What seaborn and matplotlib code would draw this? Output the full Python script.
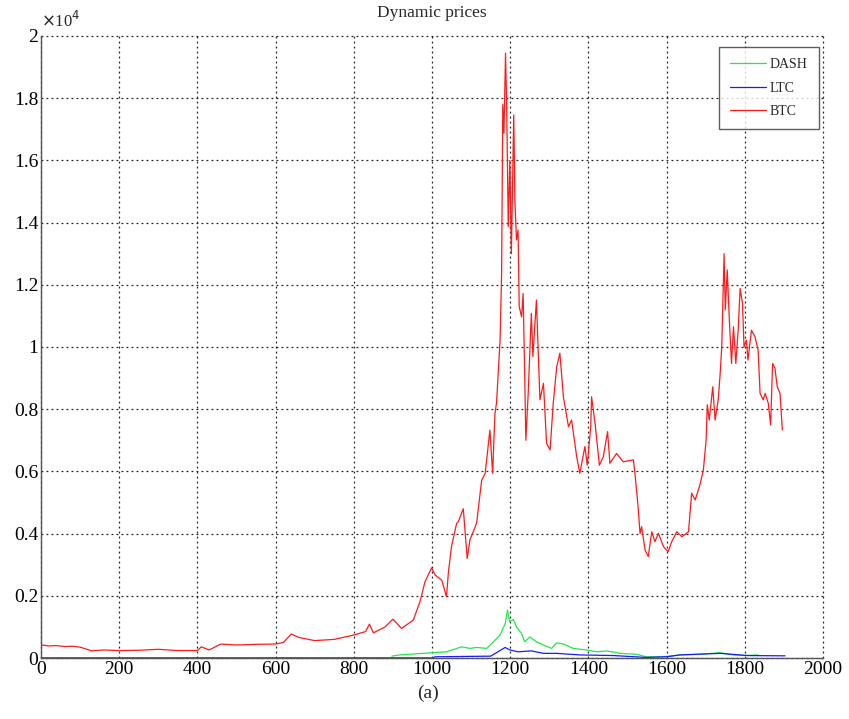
#recreate the "Dynamic prices" chart (BTC, LTC, DASH) in a MATLAB-like style
import numpy as np
import pandas as pd
import matplotlib
matplotlib.use('Agg')
import matplotlib.pyplot as plt
import matplotlib.ticker as mticker
import seaborn as sns

#BTC price (USD), day index -> price
btc_day = [0, 20, 40, 60, 80, 100, 130, 160, 200, 250, 300, 350, 400, 410, 430, 460, 500, 550, 600, 620,
           640, 660, 700, 750, 800, 830, 840, 850, 880, 900, 922, 952, 969, 982, 999, 1008, 1025, 1037, 1042, 1050,
           1063, 1067, 1080, 1090, 1097, 1114, 1127, 1136, 1148, 1155, 1161, 1165, 1174, 1178, 1181, 1184, 1188, 1191, 1195, 1199,
           1203, 1209, 1212, 1216, 1220, 1223, 1229, 1233, 1237, 1240, 1246, 1254, 1258, 1267, 1276, 1285, 1293, 1302, 1310, 1319,
           1327, 1336, 1349, 1357, 1370, 1378, 1391, 1397, 1406, 1408, 1417, 1428, 1438, 1449, 1455, 1472, 1489, 1515, 1519, 1527,
           1532, 1536, 1545, 1553, 1562, 1570, 1579, 1592, 1604, 1613, 1626, 1639, 1656, 1664, 1673, 1685, 1694, 1701, 1704, 1709,
           1718, 1724, 1732, 1737, 1741, 1747, 1750, 1755, 1760, 1766, 1771, 1777, 1783, 1788, 1794, 1798, 1804, 1808, 1817, 1826,
           1834, 1839, 1847, 1852, 1860, 1866, 1871, 1877, 1883, 1890, 1896]
btc_price = [420, 390, 400, 370, 380, 350, 230, 260, 240, 250, 280, 240, 240, 360, 260, 450, 420, 440, 450, 500,
             770, 660, 560, 600, 740, 850, 1090, 810, 1000, 1250, 950, 1220, 1800, 2450, 2900, 2670, 2500, 1970, 2770, 3600,
             4330, 4380, 4800, 3200, 3800, 4330, 5720, 5940, 7330, 5940, 7870, 8200, 10200, 12370, 17800, 16870, 19450, 17700, 13870, 16000,
             13000, 17460, 14700, 13440, 13760, 11300, 10970, 11720, 9150, 7000, 8510, 11080, 9690, 11510, 8300, 8830, 6900, 6690, 8190, 9370,
             9800, 8400, 7440, 7650, 6470, 5940, 6800, 6200, 7440, 8400, 7550, 6200, 6470, 7280, 6260, 6580, 6310, 6370, 5940, 4870,
             4000, 4220, 3470, 3260, 4060, 3740, 4010, 3580, 3420, 3740, 4060, 3900, 4060, 5300, 5080, 5560, 6050, 7000, 8140, 7650,
             8720, 7650, 8300, 9150, 10010, 13000, 11190, 12480, 10970, 9470, 10650, 9470, 10540, 11880, 11400, 10000, 10220, 9580, 10540, 10330,
             9900, 8510, 8300, 8510, 8190, 7490, 9470, 9320, 8720, 8510, 7330]

#DASH price (USD)
dash_day = [897, 918, 999, 1037, 1076, 1097, 1114, 1140, 1157, 1174, 1187, 1193, 1198, 1208, 1216, 1229, 1237, 1250, 1267, 1285,
            1306, 1319, 1336, 1361, 1395, 1421, 1447, 1481, 1523, 1548, 1600, 1634, 1685, 1737, 1771, 1806, 1834]
dash_price = [60, 100, 170, 200, 360, 310, 340, 310, 520, 740, 1100, 1540, 1170, 1240, 1000, 790, 520, 680, 520, 420,
              310, 490, 450, 310, 260, 200, 230, 150, 120, 40, 50, 100, 120, 170, 100, 80, 100]

#LTC price (USD)
ltc_day = [0, 500, 1000, 1008, 1150, 1187, 1199, 1220, 1254, 1285, 1319, 1378, 1463, 1548, 1600, 1634, 1737, 1806, 1903]
ltc_price = [5, 5, 5, 40, 60, 340, 260, 200, 230, 150, 150, 100, 80, 20, 40, 100, 150, 80, 70]

sns.set_style('white')
plt.rcParams['font.family'] = ['Liberation Serif', 'DejaVu Serif']

fig = plt.figure(figsize=(8.49, 7.19), dpi=100)
ax = fig.add_axes([0.0483, 0.0848, 0.9211, 0.8652])

sns.lineplot(x=dash_day, y=dash_price, color='#22e84a', lw=0.9, ax=ax, label='DASH')
sns.lineplot(x=ltc_day, y=ltc_price, color='#1a1aff', lw=0.9, ax=ax, label='LTC')
sns.lineplot(x=btc_day, y=btc_price, color='#ff1a1a', lw=0.9, ax=ax, label='BTC')

ax.set_xlim(0, 2000)
ax.set_ylim(0, 20000)
ax.set_xticks(np.arange(0, 2001, 200))
ax.set_yticks(np.arange(0, 20001, 2000))
ax.yaxis.set_major_formatter(mticker.FuncFormatter(lambda v, p: '%g' % round(v / 1e4, 2)))
ax.grid(True, color='#222222', ls=(0, (1.5, 2.5)), lw=0.9)
for gl in ax.get_xgridlines() + ax.get_ygridlines():
    gl.set_clip_on(False)
ax.tick_params(direction='in', length=5, labelsize=14, colors='#333333', labelcolor='black', pad=2)
ax.spines['top'].set_visible(False)
ax.spines['right'].set_visible(False)
for s in ['left', 'bottom']:
    ax.spines[s].set_color('#555555')
    ax.spines[s].set_linewidth(1.0)

ax.set_xlabel('')
ax.set_ylabel('')
ax.set_title('Dynamic prices', fontsize=12.5, pad=14)
ax.text(0.0, 1.008, r'$\times$10$^4$', transform=ax.transAxes, fontsize=12, ha='left', va='bottom')
fig.text(0.504, 0.036, '(a)', fontsize=14, ha='center', va='center')

leg = ax.legend(loc='upper right', bbox_to_anchor=(819 / 849, 1 - 47 / 719), bbox_transform=fig.transFigure,
                fontsize=10, frameon=True, fancybox=False, edgecolor='#333333', borderpad=0.8,
                labelspacing=0.75, handlelength=2.6, handletextpad=0.3, borderaxespad=0)
leg.get_frame().set_linewidth(1.0)

fig.savefig('out.png', dpi=100, facecolor='white')
